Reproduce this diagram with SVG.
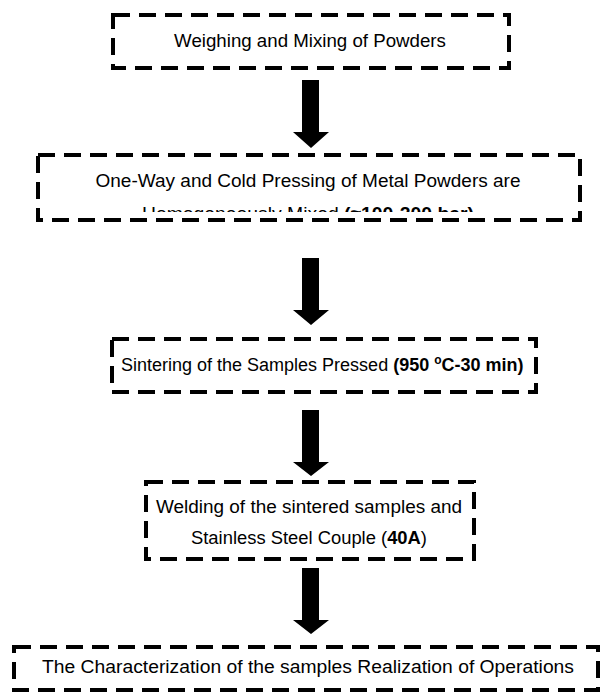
<svg xmlns="http://www.w3.org/2000/svg" width="611" height="693" viewBox="0 0 611 693">
  <style>
    .box { fill: #ffffff; stroke: #000000; stroke-width: 4; stroke-dasharray: 17 9; }
    .lbl { font-family: "Liberation Sans", Arial, sans-serif; font-size: 18.7px; fill: #000000; text-anchor: middle; }
    .lbl.st { text-anchor: start; font-size: 18px; }
    .b { font-weight: bold; }
    .sup { font-size: 12px; }
    .arrow { fill: #000000; }
  </style>
  <defs>
    <clipPath id="clip-press">
      <rect x="40" y="157" width="538" height="55"/>
    </clipPath>
  </defs>
  <rect width="611" height="693" fill="#ffffff"/>

  <g id="connectors">
    <path class="arrow" d="M302,80 H319 V132 H329 L311,148 L293,132 H302 Z"/>
    <path class="arrow" d="M302,258 H319 V310 H329 L311,325 L293,310 H302 Z"/>
    <path class="arrow" d="M302,410 H319 V462 H329 L311,476 L293,462 H302 Z"/>
    <path class="arrow" d="M302,568 H319 V620 H329 L311,634 L293,620 H302 Z"/>
  </g>

  <g id="step-weighing">
    <rect class="box" x="113" y="15" width="396" height="53"/>
    <text class="lbl" x="310" y="47">Weighing and Mixing of Powders</text>
  </g>

  <g id="step-pressing">
    <rect class="box" x="38" y="155" width="542" height="65"/>
    <g clip-path="url(#clip-press)">
      <text class="lbl" x="308" y="187" textLength="425" lengthAdjust="spacingAndGlyphs">One-Way and Cold Pressing of Metal Powders are</text>
      <text class="lbl" x="308" y="220" textLength="332" lengthAdjust="spacingAndGlyphs">Homogeneously Mixed <tspan class="b">(≈100-200 bar)</tspan></text>
    </g>
  </g>

  <g id="step-sintering">
    <rect class="box" x="112" y="339" width="424" height="53"/>
    <text class="lbl st" x="121" y="371">Sintering of the Samples Pressed <tspan class="b">(950 </tspan><tspan class="b sup" dy="-7">o</tspan><tspan class="b" dy="7">C-30 min)</tspan></text>
  </g>

  <g id="step-welding">
    <rect class="box" x="146" y="482" width="328" height="77"/>
    <text class="lbl" x="309" y="513" textLength="306" lengthAdjust="spacingAndGlyphs">Welding of the sintered samples and</text>
    <text class="lbl" x="309" y="544" textLength="236" lengthAdjust="spacingAndGlyphs">Stainless Steel Couple (<tspan class="b">40A</tspan>)</text>
  </g>

  <g id="step-characterization">
    <rect class="box" x="14" y="647" width="584" height="43"/>
    <text class="lbl" x="308" y="673" textLength="532" lengthAdjust="spacingAndGlyphs">The Characterization of the samples Realization of Operations</text>
  </g>
</svg>
